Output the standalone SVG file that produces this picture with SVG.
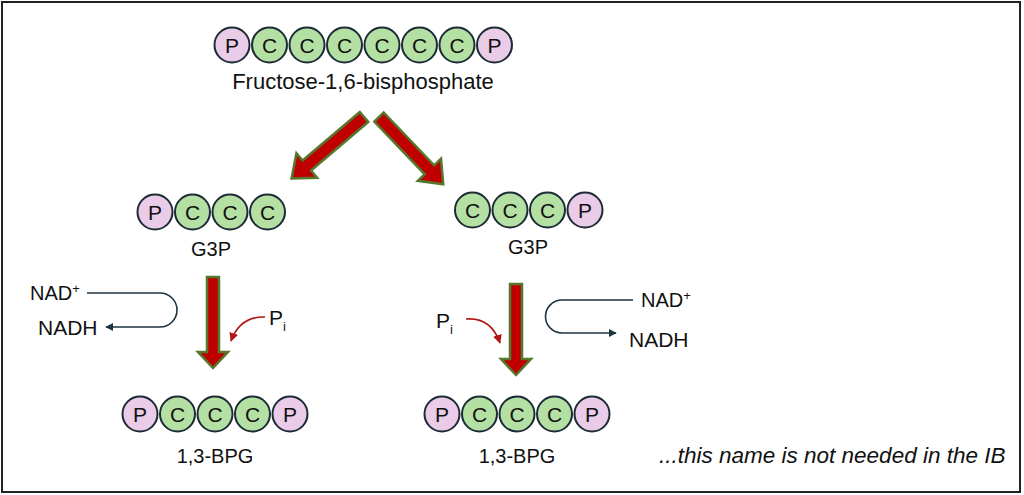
<svg xmlns="http://www.w3.org/2000/svg" width="1024" height="495" viewBox="0 0 1024 495">
<style>
.p{fill:#EACBE8;stroke:#1C2B36;stroke-width:2}
.c{fill:#B5E0A4;stroke:#1C2B36;stroke-width:2}
.l{font-family:"Liberation Sans",Arial,sans-serif;font-size:20px;fill:#111;text-anchor:middle}
.k{font-family:"Liberation Sans",Arial,sans-serif;font-size:21px;fill:#111;text-anchor:middle}
.t{font-family:"Liberation Sans",Arial,sans-serif;font-size:20px;fill:#111}
.big{fill:#C00000;stroke:#55782C;stroke-width:2.5;stroke-linejoin:miter}
.nad{fill:none;stroke:#1E3442;stroke-width:1.6}
.pi{fill:none;stroke:#B01515;stroke-width:1.6}
</style>
<defs>
<marker id="mn" viewBox="0 0 10 10" refX="9" refY="5" markerWidth="8" markerHeight="8" markerUnits="userSpaceOnUse" orient="auto"><path d="M0,0 L10,5 L0,10 Z" fill="#1E3442"/></marker>
<marker id="mr" viewBox="0 0 10 10" refX="9" refY="5" markerWidth="9" markerHeight="9" markerUnits="userSpaceOnUse" orient="auto"><path d="M0,0 L10,5 L0,10 Z" fill="#B01515"/></marker>
</defs>
<rect x="0" y="0" width="1024" height="495" fill="#fff"/>
<rect x="2" y="2" width="1018" height="490" fill="none" stroke="#222" stroke-width="2"/>

<g id="f16bp">
<circle class="p" cx="232" cy="45" r="17.5"/><circle class="c" cx="269.5" cy="45" r="17.5"/><circle class="c" cx="307" cy="45" r="17.5"/><circle class="c" cx="344.5" cy="45" r="17.5"/><circle class="c" cx="382" cy="45" r="17.5"/><circle class="c" cx="419.5" cy="45" r="17.5"/><circle class="c" cx="457" cy="45" r="17.5"/><circle class="p" cx="494.5" cy="45" r="17.5"/>
<text class="k" x="232" y="52.5">P</text><text class="k" x="269.5" y="52.5">C</text><text class="k" x="307" y="52.5">C</text><text class="k" x="344.5" y="52.5">C</text><text class="k" x="382" y="52.5">C</text><text class="k" x="419.5" y="52.5">C</text><text class="k" x="457" y="52.5">C</text><text class="k" x="494.5" y="52.5">P</text>
<text class="l" x="363" y="89" style="font-size:22px">Fructose-1,6-bisphosphate</text>
</g>

<g id="g3p-left">
<circle class="p" cx="155" cy="212" r="17.5"/><circle class="c" cx="192.5" cy="212" r="17.5"/><circle class="c" cx="230" cy="212" r="17.5"/><circle class="c" cx="267.5" cy="212" r="17.5"/>
<text class="k" x="155" y="219.5">P</text><text class="k" x="192.5" y="219.5">C</text><text class="k" x="230" y="219.5">C</text><text class="k" x="267.5" y="219.5">C</text>
<text class="l" x="211" y="256">G3P</text>
</g>

<g id="g3p-right">
<circle class="c" cx="472.5" cy="210" r="17.5"/><circle class="c" cx="510" cy="210" r="17.5"/><circle class="c" cx="547.5" cy="210" r="17.5"/><circle class="p" cx="585" cy="210" r="17.5"/>
<text class="k" x="472.5" y="217.5">C</text><text class="k" x="510" y="217.5">C</text><text class="k" x="547.5" y="217.5">C</text><text class="k" x="585" y="217.5">P</text>
<text class="l" x="528" y="254">G3P</text>
</g>

<g id="bpg-left">
<circle class="p" cx="140" cy="414" r="17.5"/><circle class="c" cx="177.5" cy="414" r="17.5"/><circle class="c" cx="215" cy="414" r="17.5"/><circle class="c" cx="252.5" cy="414" r="17.5"/><circle class="p" cx="290" cy="414" r="17.5"/>
<text class="k" x="140" y="421.5">P</text><text class="k" x="177.5" y="421.5">C</text><text class="k" x="215" y="421.5">C</text><text class="k" x="252.5" y="421.5">C</text><text class="k" x="290" y="421.5">P</text>
<text class="l" x="215" y="463">1,3-BPG</text>
</g>

<g id="bpg-right">
<circle class="p" cx="442" cy="414" r="17.5"/><circle class="c" cx="479.5" cy="414" r="17.5"/><circle class="c" cx="517" cy="414" r="17.5"/><circle class="c" cx="554.5" cy="414" r="17.5"/><circle class="p" cx="592" cy="414" r="17.5"/>
<text class="k" x="442" y="421.5">P</text><text class="k" x="479.5" y="421.5">C</text><text class="k" x="517" y="421.5">C</text><text class="k" x="554.5" y="421.5">C</text><text class="k" x="592" y="421.5">P</text>
<text class="l" x="517" y="463">1,3-BPG</text>
</g>

<g id="labels">
<text class="t" x="30" y="300">NAD<tspan dy="-7" font-size="13">+</tspan></text>
<text class="t" x="38" y="335" style="font-size:21px">NADH</text>
<text class="t" x="269" y="325" style="font-size:21px">P<tspan dy="6" font-size="13">i</tspan></text>
<text class="t" x="641" y="307">NAD<tspan dy="-7" font-size="13">+</tspan></text>
<text class="t" x="629" y="347" style="font-size:21px">NADH</text>
<text class="t" x="436" y="328" style="font-size:21px">P<tspan dy="6" font-size="13">i</tspan></text>
<text class="t" x="659" y="463" style="font-style:italic;font-size:22.5px">...this name is not needed in the IB</text>
</g>

<g id="connectors">
<polygon class="big" transform="translate(364,117) rotate(139.7)" points="0,-6.5 75,-6.5 75,-16 95,0 75,16 75,6.5 0,6.5"/>
<polygon class="big" transform="translate(379,117) rotate(46.3)" points="0,-6.5 73,-6.5 73,-16 93,0 73,16 73,6.5 0,6.5"/>
<polygon class="big" points="207,277 219,277 219,352 228,352 213,368 198,352 207,352"/>
<polygon class="big" points="510,284 522,284 522,359 531,359 516,375 501,359 510,359"/>
<path class="nad" d="M87,293 H160 A17,17 0 0 1 160,327 H106" marker-end="url(#mn)"/>
<path class="nad" d="M633,300 H562 A16.5,16.5 0 0 0 562,333 H616" marker-end="url(#mn)"/>
<path class="pi" d="M265,317 Q240,316 231,341" marker-end="url(#mr)"/>
<path class="pi" d="M466,319 Q491,317 500,343" marker-end="url(#mr)"/>
</g>
</svg>
